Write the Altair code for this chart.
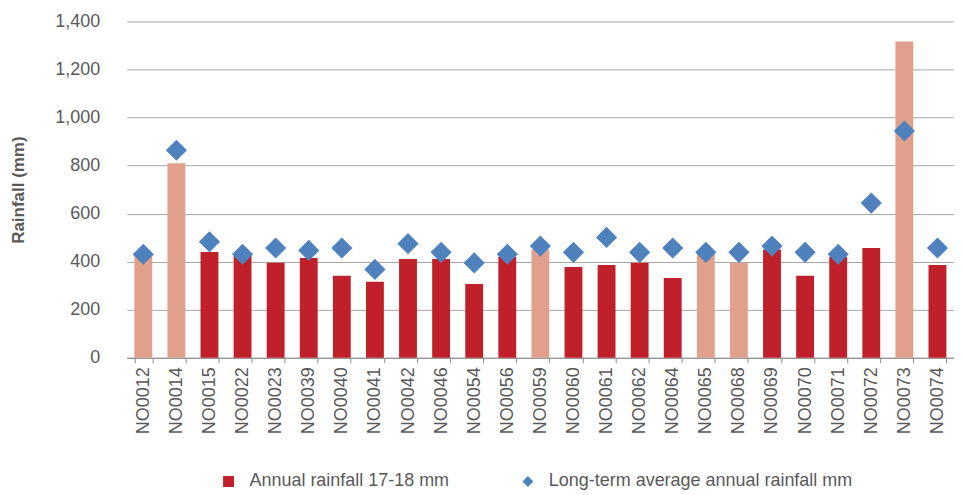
import altair as alt
import pandas as pd

stations = ["NO0012", "NO0014", "NO0015", "NO0022", "NO0023", "NO0039", "NO0040",
            "NO0041", "NO0042", "NO0046", "NO0054", "NO0056", "NO0059", "NO0060",
            "NO0061", "NO0062", "NO0064", "NO0065", "NO0068", "NO0069", "NO0070",
            "NO0071", "NO0072", "NO0073", "NO0074"]
annual = [428, 810, 440, 424, 396, 415, 341, 316, 411, 411, 307, 421, 451, 378,
          386, 396, 332, 437, 396, 451, 341, 421, 457, 1317, 386]
long_term = [431, 864, 483, 431, 457, 447, 457, 368, 475, 439, 395, 431, 465, 439,
             501, 439, 457, 439, 439, 465, 439, 431, 644, 944, 457]
incomplete = ["NO0012", "NO0014", "NO0059", "NO0065", "NO0068", "NO0073"]

A = "Annual rainfall 17-18 mm"
B = "Long-term average annual rainfall mm"
C = "Incomplete record"

bars_df = pd.DataFrame({
    "station": stations,
    "value": annual,
    "series": [C if s in incomplete else A for s in stations],
})
pts_df = pd.DataFrame({"station": stations, "value": long_term, "series": B})

color_scale = alt.Scale(domain=[A, B, C], range=["#C0202A", "#4F81BD", "#E0A08C"])
shape_scale = alt.Scale(domain=[A, B, C], range=["square", "diamond", "square"])
legend = alt.Legend(title=None, values=[A, B], orient="none", legendX=93, legendY=452,
                    direction="horizontal", labelFontSize=18, labelColor="#595959",
                    labelFont="Liberation Sans", symbolSize=120, columnPadding=69,
                    labelOffset=12, symbolStrokeWidth=0, labelLimit=500)

x = alt.X("station:N", sort=stations,
          scale=alt.Scale(paddingInner=0.46, paddingOuter=0.23),
          axis=alt.Axis(title=None, labelAngle=-90, tickBand="extent", tickSize=5,
                        tickColor="#8C8C8C", domainColor="#8C8C8C", labelPadding=4,
                        labelFontSize=18, labelColor="#595959", labelFont="Liberation Sans"))
y = alt.Y("value:Q", scale=alt.Scale(domain=[0, 1400], nice=False),
          axis=alt.Axis(title="Rainfall (mm)", values=list(range(0, 1401, 200)), format=",.0f",
                        grid=True, gridColor="#A6A6A6", domain=False, ticks=False,
                        labelPadding=27, titlePadding=27, titleFontSize=17,
                        titleFontWeight="bold", titleColor="#595959", labelFontSize=18,
                        labelColor="#595959", labelFont="Liberation Sans",
                        titleFont="Liberation Sans"))

bars = alt.Chart(bars_df).mark_bar().encode(
    x=x, y=y,
    color=alt.Color("series:N", scale=color_scale, legend=legend),
)
points = alt.Chart(pts_df).mark_point(filled=True, size=450, opacity=1).encode(
    x=x, y=y,
    color=alt.Color("series:N", scale=color_scale, legend=legend),
    shape=alt.Shape("series:N", scale=shape_scale, legend=legend),
)

chart = alt.layer(bars, points).properties(
    width=829, height=337,
    padding={"left": 1, "top": 4, "right": 0, "bottom": 0},
).configure_view(stroke=None)

chart.save("out.html", embed_options={"renderer": "svg", "actions": False})
